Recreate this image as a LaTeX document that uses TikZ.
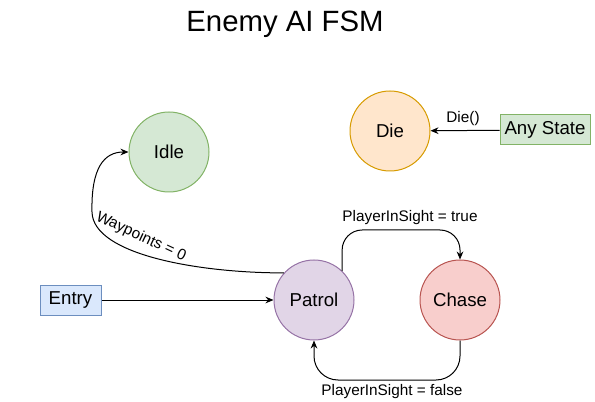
\documentclass[tikz,border=0pt]{standalone}
\usepackage{fontspec}
\setmainfont{Liberation Sans}
\usetikzlibrary{positioning,arrows.meta}

\definecolor{idlefill}{HTML}{D5E8D4}
\definecolor{idleline}{HTML}{82B366}
\definecolor{diefill}{HTML}{FFE6CC}
\definecolor{dieline}{HTML}{D79B00}
\definecolor{patrolfill}{HTML}{E1D5E7}
\definecolor{patrolline}{HTML}{9673A6}
\definecolor{chasefill}{HTML}{F8CECC}
\definecolor{chaseline}{HTML}{B85450}
\definecolor{entryfill}{HTML}{DAE8FC}
\definecolor{entryline}{HTML}{6C8EBF}

\tikzset{
  state/.style={circle, minimum size=60pt, inner sep=0pt, line width=0.75pt, font=\fontsize{14}{16}\selectfont},
  box/.style={rectangle, minimum height=22.5pt, inner sep=2pt, line width=0.75pt, font=\fontsize{14}{16}\selectfont},
  trans/.style={-{Stealth[length=6pt,width=5pt]}, line width=0.75pt},
  lbl/.style={font=\fontsize{11.5}{13}\selectfont, inner sep=1pt}
}

\begin{document}
\begin{tikzpicture}[x=0.75pt, y=-0.75pt]
\useasboundingbox (0,0) rectangle (595,402);

\node (title) at (285,24) {\fontsize{22}{26}\selectfont Enemy AI FSM};

\node [state, fill=idlefill, draw=idleline] (idle) at (169,152) {Idle};
\node [state, fill=diefill, draw=dieline] (die) at (390,131) {Die};
\node [state, fill=patrolfill, draw=patrolline] (patrol) at (314,300) {Patrol};
\node [state, fill=chasefill, draw=chaseline] (chase) at (460,300) {Chase};

\node [box, minimum width=45.75pt, fill=entryfill, draw=entryline] (entry) at (70.5,300) {Entry};
\node [box, minimum width=67.5pt, fill=idlefill, draw=idleline] (any) at (545,130) {Any State};

% transitions
\draw [trans] (entry) -- (patrol);
\draw [trans] (any) -- (die);
\node [lbl] (dielbl) at (463,119) {Die()};

\draw [trans] (patrol.138) .. controls (200,273) and (93,255) .. (92,212)
  .. controls (91,168) and (104,152) .. (idle.west);
\node [lbl, rotate=-25] (wplbl) at (141,237) {Waypoints = 0};

\draw [trans, rounded corners=15pt] (patrol.46) |- (460,230) -- (chase.north);
\node [lbl] (truelbl) at (410,218) {PlayerInSight = true};

\draw [trans, rounded corners=18pt] (chase.south) |- (314,380) -- (patrol.south);
\node [lbl] (falselbl) at (392,392) {PlayerInSight = false};
\end{tikzpicture}
\end{document}
